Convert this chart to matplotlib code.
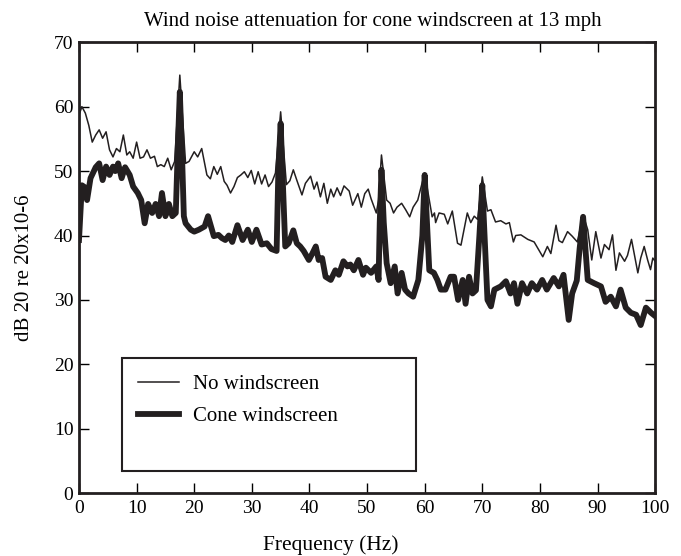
import matplotlib
matplotlib.use("Agg")
import matplotlib.pyplot as plt
import matplotlib.patches as patches

plt.rcParams['font.family'] = ['Liberation Serif', 'DejaVu Serif']

# No windscreen (thin line)
freq_open = [0, 0.5, 1.1, 1.7, 2.3, 2.9, 3.5, 4.1, 4.7, 5.3, 5.9, 6.5, 7.1, 7.7, 8.3, 8.8, 9.4, 10.0,
             10.6, 11.2, 11.8, 12.4, 13.1, 13.6, 14.2, 14.8, 15.4, 16.0, 16.6, 17.5, 18.5, 19.1, 20.0,
             20.6, 21.3, 22.2, 22.8, 23.4, 24.0, 24.6, 25.2, 25.7, 26.3, 26.9, 27.5, 28.1, 28.7, 29.3,
             29.9, 30.5, 31.1, 31.7, 32.3, 32.9, 33.5, 34.1, 35.0, 36.0, 36.6, 37.2, 37.8, 38.7, 39.3,
             40.2, 40.8, 41.3, 41.9, 42.5, 43.1, 43.7, 44.2, 44.8, 45.4, 46.0, 46.9, 47.5, 48.4, 49.0,
             49.6, 50.2, 50.7, 51.6, 52.0, 52.5, 53.4, 54.0, 54.6, 55.2, 56.0, 56.7, 57.4, 58.0, 58.8,
             60.0, 61.3, 61.7, 61.9, 62.5, 63.4, 64.0, 64.8, 65.7, 66.3, 67.4, 68.0, 68.6, 69.2,
             70.0, 70.9, 71.5, 72.3, 73.2, 74.1, 74.7, 75.4, 75.8, 76.7, 77.9, 79.0, 80.5, 81.3, 81.9,
             82.8, 83.3, 83.9, 84.8, 85.6, 86.5, 87.5, 88.3, 89.0, 89.7, 90.6, 91.2, 92.0, 92.6, 93.2,
             93.8, 94.7, 95.2, 95.9, 97.0, 97.5, 98.1, 98.7, 99.2, 99.6, 100]
db_open = [58.7, 60.0, 59.0, 57.1, 54.5, 55.6, 56.4, 55.1, 56.1, 53.3, 52.2, 53.5, 53.0, 55.6, 52.5, 53.0, 52.0, 54.5,
           52.0, 52.2, 53.3, 52.0, 52.3, 50.7, 51.0, 50.7, 52.0, 50.2, 51.5, 64.9, 51.2, 51.5, 53.0,
           52.2, 53.5, 49.4, 48.8, 50.7, 49.5, 50.7, 48.4, 47.8, 46.6, 47.6, 49.0, 49.4, 49.9, 49.0,
           50.1, 48.0, 49.9, 48.0, 49.4, 47.6, 48.3, 49.7, 59.2, 47.9, 48.5, 50.2, 48.6, 46.3, 48.1,
           49.2, 47.2, 48.3, 46.0, 48.1, 45.0, 47.2, 46.0, 47.4, 46.2, 47.7, 46.9, 44.7, 46.5, 44.4,
           46.5, 47.2, 45.7, 43.5, 45.5, 52.5, 45.5, 45.0, 43.5, 44.4, 45.0, 44.0, 42.9, 44.4, 45.5,
           49.7, 42.9, 43.5, 42.0, 43.5, 43.3, 41.8, 43.8, 38.8, 38.5, 43.5, 42.0, 43.0, 42.5,
           49.1, 43.8, 44.0, 42.1, 42.3, 41.8, 42.0, 39.0, 40.0, 40.1, 39.4, 39.0, 36.7, 38.3, 37.2,
           41.6, 39.2, 38.9, 40.6, 39.9, 39.0, 43.2, 40.9, 36.2, 40.6, 36.5, 38.6, 37.8, 40.1, 34.6,
           37.3, 36.0, 36.9, 39.4, 34.2, 36.5, 38.3, 36.2, 34.7, 36.5, 36.0]

# Cone windscreen (thick line)
freq_cone = [0, 0.5, 1.0, 1.4, 2.0, 2.9, 3.5, 4.1, 4.7, 5.3, 5.9, 6.3, 6.8, 7.4, 8.0, 8.4, 8.8, 9.4,
             10.2, 10.8, 11.4, 12.0, 12.7, 13.3, 13.9, 14.4, 15.0, 15.6, 16.2, 16.8, 17.2, 17.5, 17.9,
             18.2, 18.5, 19.4, 20.0, 20.8, 21.8, 22.4, 23.4, 24.2, 24.8, 25.4, 26.0, 26.6, 27.5, 28.4,
             29.3, 30.0, 30.8, 31.7, 32.6, 33.4, 34.3, 34.6, 35.0, 35.4, 35.8, 36.4, 37.2, 37.8, 38.4,
             39.0, 39.9, 40.5, 41.1, 41.6, 42.2, 42.8, 43.7, 44.5, 45.1, 45.9, 46.6, 47.1, 47.7, 48.5,
             49.3, 49.8, 50.7, 51.6, 52.0, 52.2, 52.5, 52.9, 53.4, 54.1, 54.8, 55.3, 56.0, 56.6, 57.2,
             58.0, 58.9, 59.6, 60.0, 60.4, 60.8, 61.6, 62.2, 62.8, 63.6, 64.5, 65.1, 65.8, 66.6, 67.1,
             67.7, 68.3, 68.9, 69.5, 70.0, 70.5, 70.9, 71.5, 72.1, 73.2, 74.1, 74.9, 75.5, 76.1, 76.9,
             77.8, 78.6, 79.5, 80.4, 81.2, 82.4, 83.3, 84.1, 85.0, 85.6, 86.4, 86.9, 87.5, 87.9, 88.3,
             89.4, 90.6, 91.4, 92.3, 93.2, 94.0, 94.9, 95.8, 96.7, 97.5, 98.4, 99.3, 100]
db_cone = [39.3, 47.8, 47.5, 45.5, 48.9, 50.6, 51.2, 48.6, 50.7, 49.4, 50.7, 50.0, 51.2, 48.9, 50.6, 50.0, 49.4, 47.6,
           46.6, 45.5, 41.9, 44.9, 43.5, 44.9, 43.0, 46.6, 43.0, 44.9, 43.0, 43.5, 55.0, 62.3, 52.0,
           43.0, 41.9, 40.9, 40.6, 40.9, 41.4, 43.0, 39.9, 40.1, 39.6, 39.3, 40.0, 39.0, 41.6, 39.3,
           40.9, 39.0, 40.9, 38.6, 38.8, 37.9, 37.6, 50.0, 57.4, 48.0, 38.3, 38.8, 40.8, 38.8, 38.3,
           37.6, 36.2, 37.2, 38.3, 36.2, 36.5, 33.6, 33.1, 34.6, 33.9, 36.0, 35.2, 35.5, 34.6, 36.2,
           33.9, 35.0, 34.2, 35.2, 33.1, 42.0, 50.2, 42.0, 35.7, 32.6, 35.2, 31.0, 34.2, 31.6, 31.0,
           30.5, 33.1, 40.0, 49.4, 42.0, 34.6, 34.2, 33.1, 31.6, 31.6, 33.6, 33.6, 30.0, 33.1, 29.4,
           33.6, 31.0, 31.5, 40.0, 47.8, 38.0, 30.0, 29.0, 31.6, 32.1, 32.9, 31.0, 32.6, 29.4, 32.6,
           31.0, 32.6, 31.6, 33.1, 31.6, 33.4, 32.1, 33.9, 26.9, 31.0, 33.0, 38.0, 42.9, 38.0, 33.1,
           32.6, 32.1, 29.7, 30.5, 29.0, 31.6, 28.8, 28.0, 27.7, 26.1, 28.8, 28.0, 27.5]

fig = plt.figure(figsize=(6.81, 5.56), dpi=100)
ax = fig.add_axes([0.116, 0.113, 0.846, 0.811])

line_color = '#231f20'
ax.plot(freq_open, db_open, color=line_color, lw=1.1, label='No windscreen')
ax.plot(freq_cone, db_cone, color=line_color, lw=4.2, solid_joinstyle='round', label='Cone windscreen')

ax.set_xlim(0, 100)
ax.set_ylim(0, 70)
ax.set_xticks(range(0, 101, 10))
ax.set_yticks(range(0, 71, 10))
ax.tick_params(direction='in', length=7, width=1, top=True, right=True, labelsize=14)
ax.tick_params(axis='x', pad=5)
ax.tick_params(axis='y', pad=4)
for s in ax.spines.values():
    s.set_linewidth(2)
    s.set_color(line_color)

ax.set_title('Wind noise attenuation for cone windscreen at 13 mph', fontsize=15, pad=12, x=0.51)
ax.set_xlabel('Frequency (Hz)', fontsize=15.5, labelpad=13, x=0.437)
ax.set_ylabel('dB 20 re 20x10-6', fontsize=15, labelpad=14)

# legend box
box = patches.Rectangle((0.075, 0.05), 0.51, 0.25, transform=ax.transAxes,
                        fill=False, ec=line_color, lw=1.5, zorder=5)
ax.add_patch(box)
leg = ax.legend(loc='upper left', bbox_to_anchor=(0.102, 0.263), frameon=False,
                fontsize=15, handlelength=2.0, handletextpad=0.65, labelspacing=0.6,
                borderaxespad=0, borderpad=0)

fig.savefig('out.png', dpi=100)
